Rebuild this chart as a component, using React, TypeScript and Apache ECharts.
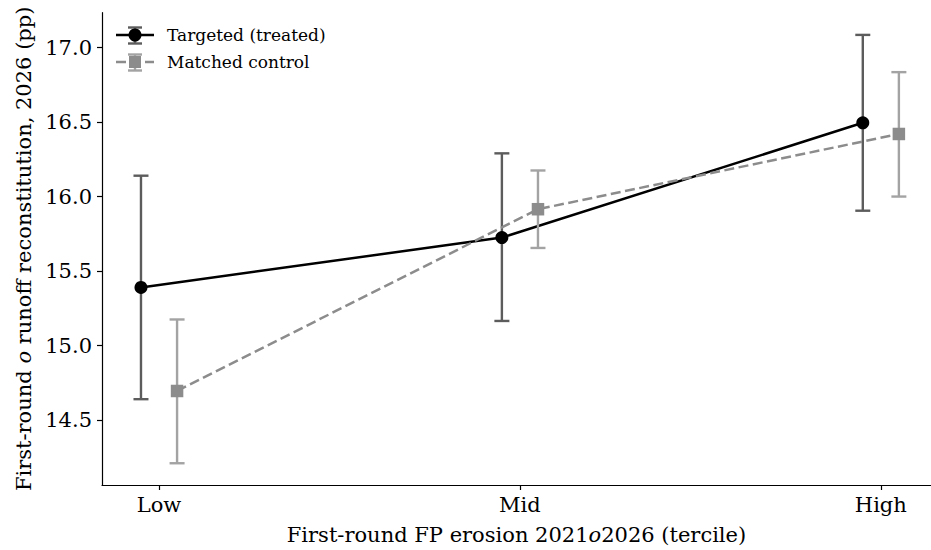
import React, { useEffect, useRef } from "react";
import * as echarts from "echarts";

const categories = ["Low", "Mid", "High"];
const categoryPositions = [0, 1, 2];
const offset = 0.05;

const treatedMean = [15.39, 15.725, 16.495];
const treatedLow = [14.64, 15.165, 15.905];
const treatedHigh = [16.14, 16.29, 17.085];

const controlMean = [14.695, 15.915, 16.42];
const controlLow = [14.21, 15.655, 16.0];
const controlHigh = [15.175, 16.175, 16.835];

const yTicks = [14.5, 15.0, 15.5, 16.0, 16.5, 17.0];

const FONT = "'DejaVu Serif', serif";
const TREATED = "#000000";
const TREATED_ERR = "#5c5c5c";
const CONTROL = "#8c8c8c";
const CONTROL_ERR = "#a3a3a3";

const serif = { fontFamily: FONT, fontSize: 21, color: "#000" };
const serifItalic = { fontFamily: FONT, fontSize: 21, fontStyle: "italic", color: "#000" };

function errRender(color: string) {
  return (params: any, api: any) => {
    const x = api.value(0);
    const lo = api.coord([x, api.value(1)]);
    const hi = api.coord([x, api.value(2)]);
    const cap = 7.5;
    const style = { stroke: color, lineWidth: 2.4 };
    return {
      type: "group",
      children: [
        { type: "line", shape: { x1: lo[0], y1: lo[1], x2: hi[0], y2: hi[1] }, style },
        { type: "line", shape: { x1: lo[0] - cap, y1: lo[1], x2: lo[0] + cap, y2: lo[1] }, style },
        { type: "line", shape: { x1: hi[0] - cap, y1: hi[1], x2: hi[0] + cap, y2: hi[1] }, style },
      ],
    };
  };
}

export default function App() {
  const ref = useRef<HTMLDivElement>(null);
  useEffect(() => {
    if (!ref.current) return;
    const chart = echarts.init(ref.current, undefined, { renderer: "svg" });
    const tX = categoryPositions.map((p) => p - offset);
    const cX = categoryPositions.map((p) => p + offset);
    const option: any = {
      animation: false,
      backgroundColor: "#ffffff",
      textStyle: { fontFamily: FONT },
      grid: { left: 102, right: 0, top: 12.7, bottom: 63 },
      xAxis: {
        type: "value",
        min: -0.158,
        max: 2.139,
        name: "{n|First-round FP erosion 2021}{i|o}{n|2026 (tercile)}",
        nameLocation: "middle",
        nameGap: 39,
        nameTextStyle: { rich: { n: serif, i: serifItalic } },
        axisLine: { show: true, onZero: false, lineStyle: { color: "#000", width: 1.2 } },
        axisTick: { show: true, inside: false, length: 5, customValues: categoryPositions, lineStyle: { color: "#000", width: 1.2 } },
        axisLabel: {
          customValues: categoryPositions,
          formatter: (v: number) => "{n|" + (categories[Math.round(v)] ?? "") + "}",
          rich: { n: serif },
          fontFamily: FONT,
          fontSize: 21,
          color: "#000",
          margin: 9,
        },
        splitLine: { show: false },
      },
      yAxis: {
        type: "value",
        min: 14.064,
        max: 17.234,
        name: "{n|First-round }{i|o}{n| runoff reconstitution, 2026 (pp)}",
        nameLocation: "middle",
        nameGap: 68,
        nameRotate: 90,
        nameTextStyle: { rich: { n: serif, i: serifItalic } },
        axisLine: { show: true, onZero: false, lineStyle: { color: "#000", width: 1.2 } },
        axisTick: { show: true, inside: false, length: 5, customValues: yTicks, lineStyle: { color: "#000", width: 1.2 } },
        axisLabel: {
          customValues: yTicks,
          formatter: (v: number) => "{n|" + v.toFixed(1) + "}",
          rich: { n: serif },
          fontFamily: FONT,
          fontSize: 21,
          color: "#000",
          margin: 10,
        },
        splitLine: { show: false },
      },
      series: [
        {
          name: "Targeted (treated) err",
          type: "custom",
          renderItem: errRender(TREATED_ERR),
          data: tX.map((x, i) => [x, treatedLow[i], treatedHigh[i]]),
          z: 2,
        },
        {
          name: "Targeted (treated)",
          type: "line",
          data: tX.map((x, i) => [x, treatedMean[i]]),
          symbol: "circle",
          symbolSize: 13,
          lineStyle: { color: TREATED, width: 2.5 },
          itemStyle: { color: TREATED },
          z: 3,
        },
        {
          name: "Matched control err",
          type: "custom",
          renderItem: errRender(CONTROL_ERR),
          data: cX.map((x, i) => [x, controlLow[i], controlHigh[i]]),
          z: 4,
        },
        {
          name: "Matched control",
          type: "line",
          data: cX.map((x, i) => [x, controlMean[i]]),
          symbol: "rect",
          symbolSize: 12.5,
          lineStyle: { color: CONTROL, width: 2.5, type: [10, 4.5] },
          itemStyle: { color: CONTROL },
          z: 5,
        },
      ],
      graphic: [
        { type: "line", shape: { x1: 116, y1: 35, x2: 154, y2: 35 }, style: { stroke: TREATED, lineWidth: 2.5 } },
        { type: "line", shape: { x1: 135, y1: 27.5, x2: 135, y2: 43.5 }, style: { stroke: TREATED_ERR, lineWidth: 2.4 } },
        { type: "line", shape: { x1: 128, y1: 27.5, x2: 142, y2: 27.5 }, style: { stroke: TREATED_ERR, lineWidth: 2.4 } },
        { type: "line", shape: { x1: 128, y1: 43.5, x2: 142, y2: 43.5 }, style: { stroke: TREATED_ERR, lineWidth: 2.4 } },
        { type: "circle", shape: { cx: 135, cy: 35, r: 6.5 }, style: { fill: TREATED } },
        { type: "text", x: 167, y: 35, style: { text: "Targeted (treated)", font: "17px 'DejaVu Serif', serif", fill: "#000", verticalAlign: "middle" } },
        { type: "line", shape: { x1: 116, y1: 62, x2: 154, y2: 62 }, style: { stroke: CONTROL, lineWidth: 2.5, lineDash: [10, 4.5] } },
        { type: "line", shape: { x1: 135, y1: 54.5, x2: 135, y2: 70.5 }, style: { stroke: CONTROL_ERR, lineWidth: 2.4 } },
        { type: "line", shape: { x1: 128, y1: 54.5, x2: 142, y2: 54.5 }, style: { stroke: CONTROL_ERR, lineWidth: 2.4 } },
        { type: "line", shape: { x1: 128, y1: 70.5, x2: 142, y2: 70.5 }, style: { stroke: CONTROL_ERR, lineWidth: 2.4 } },
        { type: "rect", shape: { x: 129, y: 56, width: 12, height: 12 }, style: { fill: CONTROL } },
        { type: "text", x: 167, y: 62, style: { text: "Matched control", font: "17px 'DejaVu Serif', serif", fill: "#000", verticalAlign: "middle" } },
      ],
    };
    chart.setOption(option);
    return () => chart.dispose();
  }, []);
  return (
    <div
      ref={ref}
      style={{ position: "absolute", left: 0, top: 0, width: 931, height: 550, background: "#fff" }}
    />
  );
}
